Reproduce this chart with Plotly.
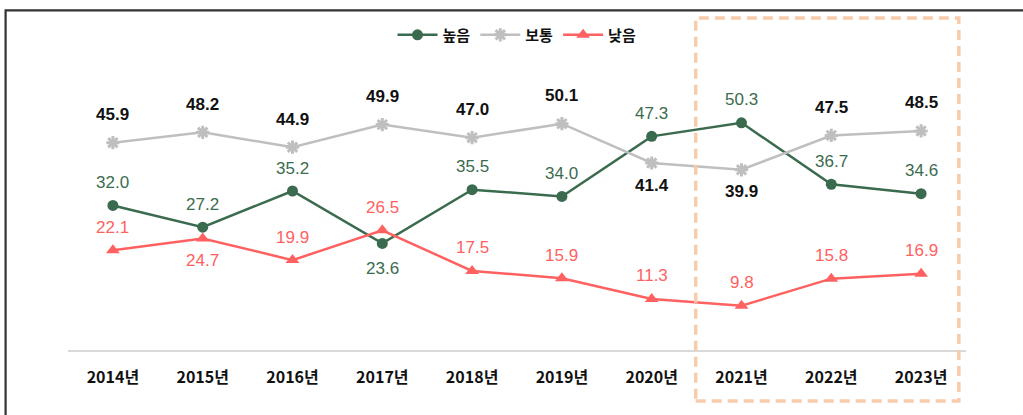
import plotly.graph_objects as go

#-------------------------------------------------------------------------------------------
# data
years = ["2014년", "2015년", "2016년", "2017년", "2018년", "2019년", "2020년", "2021년", "2022년", "2023년"]
high = [32.0, 27.2, 35.2, 23.6, 35.5, 34.0, 47.3, 50.3, 36.7, 34.6]
mid = [45.9, 48.2, 44.9, 49.9, 47.0, 50.1, 41.4, 39.9, 47.5, 48.5]
low = [22.1, 24.7, 19.9, 26.5, 17.5, 15.9, 11.3, 9.8, 15.8, 16.9]

# which side of the point each value label sits on (1 above, -1 below)
high_side = [1, 1, 1, -1, 1, 1, 1, 1, 1, 1]
mid_side = [1, 1, 1, 1, 1, 1, -1, -1, 1, 1]
low_side = [1, -1, 1, 1, 1, 1, 1, 1, 1, 1]

GREEN = "#3b6b4e"
GRAY = "#bfbfbf"
RED = "#ff6161"
NUM_FONT = "Liberation Sans, Arial, sans-serif"
KR_FONT = "Noto Sans CJK KR, sans-serif"


def labels(values, sides, color, weight, up, down):
	out = []
	for x, v, s in zip(years, values, sides):
		out.append(dict(x=x, y=v, text="%.1f" % v, showarrow=False,
			yshift=up if s > 0 else -down,
			font=dict(family=NUM_FONT, size=17, color=color, weight=weight)))
	return out


fig = go.Figure()
fig.add_trace(go.Scatter(x=years, y=high, name="높음", mode="lines+markers",
	line=dict(color=GREEN, width=2.5),
	marker=dict(symbol="circle", size=11, color=GREEN)))
fig.add_trace(go.Scatter(x=years, y=mid, name="보통", mode="lines+markers",
	line=dict(color=GRAY, width=2.5),
	marker=dict(symbol="asterisk-open", size=11, line=dict(color=GRAY, width=3))))
fig.add_trace(go.Scatter(x=years, y=low, name="낮음", mode="lines+markers",
	line=dict(color=RED, width=2.5),
	marker=dict(symbol="triangle-up", size=12, color=RED)))

ann = []
ann += labels(high, high_side, GREEN, "normal", 23, 25)
ann += labels(mid, mid_side, "#111111", "bold", 28, 22)
ann += labels(low, low_side, RED, "normal", 23, 22)

shapes = [
	# highlighted recent years
	dict(type="rect", xref="x", yref="paper", x0=6.49, x1=9.42, y0=-0.188, y1=1.225,
		line=dict(color="#f8cbad", width=3.5, dash="10px,6px"), fillcolor="rgba(0,0,0,0)"),
	# outer frame
	dict(type="rect", xref="paper", yref="paper", x0=-0.0695, x1=1.3, y0=-0.5, y1=1.2535,
		line=dict(color="#333333", width=2.2), fillcolor="rgba(0,0,0,0)"),
]

fig.update_layout(
	width=1023, height=415,
	margin=dict(l=68, r=57, t=79, b=65),
	paper_bgcolor="white", plot_bgcolor="white",
	annotations=ann,
	shapes=shapes,
	showlegend=True,
	legend=dict(orientation="h", x=0.5, xanchor="center", y=1.162, yanchor="middle",
		font=dict(family=KR_FONT, size=15, color="#111111", weight="bold"), itemwidth=40),
	font=dict(family=KR_FONT),
)
fig.update_xaxes(type="category", range=[-0.5, 9.5], showgrid=False, zeroline=False,
	showline=True, linecolor="#d9d9d9", linewidth=1.5,
	ticks="outside", ticklen=12, tickcolor="rgba(0,0,0,0)",
	tickfont=dict(family=KR_FONT, size=16, color="#111111", weight="bold"))
fig.update_yaxes(range=[0, 60], showgrid=False, zeroline=False, showticklabels=False, showline=False)

# drop the page margin so the chart sits at the window corner
fig.write_html("out.html", config={"displayModeBar": False},
	post_script="document.body.style.margin='0';")
